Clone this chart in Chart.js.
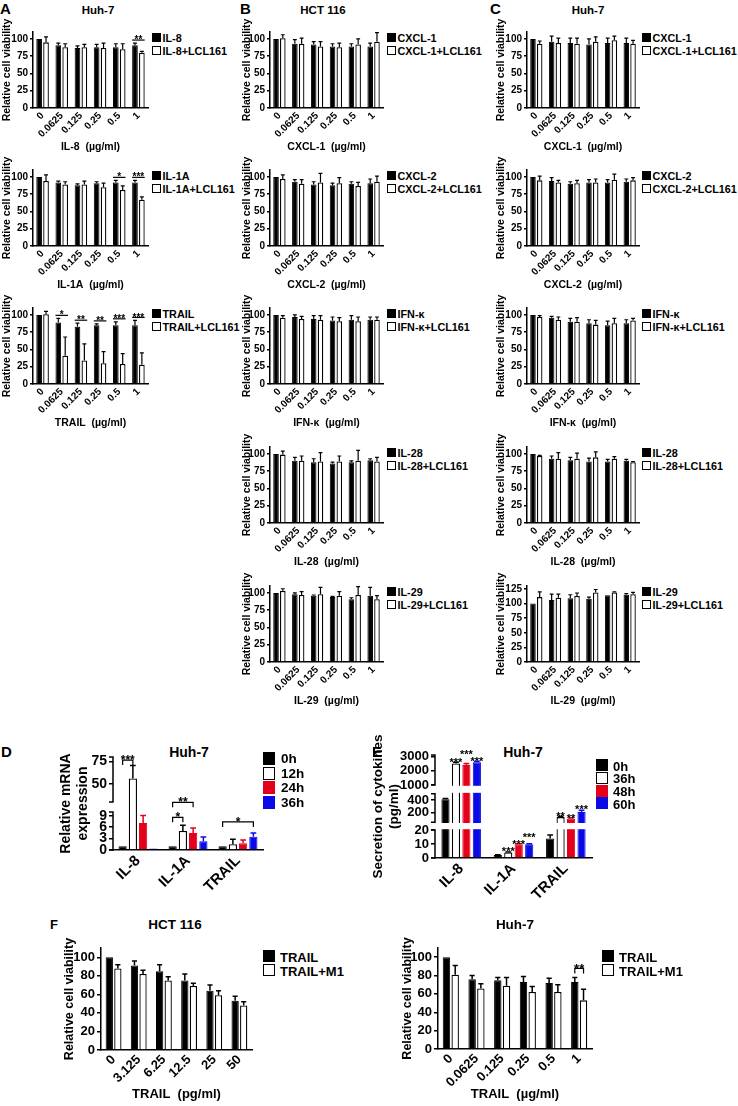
<!DOCTYPE html>
<html><head><meta charset="utf-8">
<script src="https://cdn.jsdelivr.net/npm/chart.js@4.4.1/dist/chart.umd.min.js"></script>
<style>
html,body{margin:0;padding:0;background:#fff;}
#wrap{position:relative;width:738px;height:1106px;overflow:hidden;background:#fff;font-family:"Liberation Sans",Arial,Helvetica,sans-serif;font-weight:bold;color:#000;}
#wrap canvas{position:absolute;}
.t{position:absolute;white-space:pre;line-height:1;}
.bx{position:absolute;box-sizing:border-box;}
</style></head><body><div id="wrap"></div>
<script>
// ================= DATA =================
const doseCats = ['0', '0.0625', '0.125', '0.25', '0.5', '1'];
const pgCats = ['0', '3.125', '6.25', '12.5', '25', '50'];
const viabTicks = [0, 25, 50, 75, 100];
const viabTicks125 = [0, 25, 50, 75, 100, 125];
const fTicks = [0, 20, 40, 60, 80, 100];

// Panel A (Huh-7)
const aIL8 = [100, 91, 87, 88, 88, 91];      const aIL8Err = [0, 3, 3, 4, 5, 3];
const aIL8L = [95, 88, 88, 87, 85, 80];      const aIL8LErr = [8, 5, 4, 7, 8, 2];
const aIL8Stars = ['', '', '', '', '', '**'];
const aIL1A = [100, 92, 88, 91, 92, 92];     const aIL1AErr = [0, 2, 2, 2, 3, 3];
const aIL1AL = [94, 89, 89, 85, 81, 67];     const aIL1ALErr = [9, 4, 5, 6, 6, 4];
const aIL1AStars = ['', '', '', '', '*', '***'];
const aTRAIL = [100, 89, 83, 85, 85, 85];    const aTRAILErr = [0, 6, 5, 2, 5, 7];
const aTRAILL = [101, 41, 34, 30, 29, 28];   const aTRAILLErr = [4, 27, 24, 17, 15, 17];
const aTRAILStars = ['', '*', '**', '**', '***', '***'];

// Panel B (HCT 116)
const bCXCL1 = [100, 93, 92, 89, 89, 89];    const bCXCL1Err = [0, 6, 4, 4, 4, 5];
const bCXCL1L = [101, 93, 89, 88, 92, 96];   const bCXCL1LErr = [5, 8, 7, 6, 8, 13];
const bCXCL2 = [100, 93, 89, 88, 90, 91];    const bCXCL2Err = [0, 3, 4, 3, 3, 6];
const bCXCL2L = [97, 90, 92, 91, 87, 93];    const bCXCL2LErr = [6, 6, 13, 8, 5, 8];
const bIFNK = [100, 97, 94, 92, 93, 93];     const bIFNKErr = [0, 3, 5, 5, 6, 4];
const bIFNKL = [96, 94, 93, 91, 91, 93];     const bIFNKLErr = [3, 4, 6, 5, 6, 4];
const bIL28 = [100, 90, 88, 86, 88, 91];     const bIL28Err = [0, 5, 5, 2, 2, 2];
const bIL28L = [99, 90, 89, 89, 90, 89];     const bIL28LErr = [5, 7, 13, 8, 15, 6];
const bIL29 = [100, 98, 96, 94, 91, 96];     const bIL29Err = [0, 2, 1, 1, 2, 12];
const bIL29L = [103, 97, 98, 96, 97, 91];    const bIL29LErr = [3, 5, 10, 6, 12, 5];

// Panel C (Huh-7)
const cCXCL1 = [100, 96, 94, 92, 94, 94];    const cCXCL1Err = [0, 8, 7, 8, 7, 7];
const cCXCL1L = [93, 94, 93, 96, 98, 93];    const cCXCL1LErr = [4, 7, 8, 7, 6, 5];
const cCXCL2 = [100, 94, 90, 92, 92, 93];    const cCXCL2Err = [0, 5, 3, 4, 4, 4];
const cCXCL2L = [95, 92, 91, 92, 96, 95];    const cCXCL2LErr = [6, 3, 4, 5, 8, 4];
const cIFNK = [100, 96, 90, 88, 85, 88];     const cIFNKErr = [0, 2, 5, 5, 6, 5];
const cIFNKL = [97, 93, 90, 86, 88, 92];     const cIFNKLErr = [2, 4, 6, 6, 7, 3];
const cIL28 = [100, 93, 91, 89, 89, 90];     const cIL28Err = [0, 4, 4, 5, 3, 2];
const cIL28L = [97, 93, 93, 95, 93, 88];     const cIL28LErr = [1, 9, 8, 8, 3, 1];
const cIL29 = [100, 106, 109, 108, 114, 115]; const cIL29Err = [0, 10, 6, 3, 0, 2];
const cIL29L = [111, 110, 113, 119, 119, 116]; const cIL29LErr = [9, 6, 5, 5, 1, 3];

// Panel D (Huh-7, relative mRNA expression)
const dCats = ['IL-8', 'IL-1A', 'TRAIL'];
const dSeries = ['0h', '12h', '24h', '36h'];
const d0h = [1, 1, 1];          const d0hErr = [0, 0, 0];
const d12h = [56, 5, 1.5];      const d12hErr = [14.5, 1.5, 1.3];
const d24h = [7.1, 4.5, 1.8];   const d24hErr = [2, 1.3, 0.8];
const d36h = [0.4, 2.3, 3.5];   const d36hErr = [0, 1.1, 1];
const dTicks = [0, 3, 6, 9, 50, 75];
const dBrackets = [{g: 0, a: 0, b: 1, text: '***'}, {g: 1, a: 0, b: 1, text: '*'}, {g: 1, a: 0, b: 2, text: '**'}, {g: 2, a: 0, b: 3, text: '*'}];

// Panel E (Huh-7, secretion of cytokines, pg/ml)
const eCats = ['IL-8', 'IL-1A', 'TRAIL'];
const eSeries = ['0h', '36h', '48h', '60h'];
const e0h = [410, 2.1, 14];     const e0hErr = [15, 0.3, 2.4];
const e36h = [2500, 4, 130];    const e36hErr = [100, 0.3, 15];
const e48h = [2400, 9.8, 105];  const e48hErr = [100, 0.3, 10];
const e60h = [2600, 9.8, 210];  const e60hErr = [50, 0.4, 30];
const e36hStars = ['***', '***', '**'];
const e48hStars = ['***', '***', '**'];
const e60hStars = ['***', '***', '***'];
const eTicks = [0, 10, 20, 200, 400, 1000, 2000, 3000];

// Panel F
const fHctTRAIL = [100, 91, 85, 75, 64, 53];  const fHctTRAILErr = [0, 5, 7, 7, 6, 5];
const fHctM1 = [88, 82, 75, 69, 59, 48];      const fHctM1Err = [4, 4, 4, 3, 5, 4];
const fHuhTRAIL = [100, 76, 75, 73, 72, 73];  const fHuhTRAILErr = [0, 4, 3, 6, 5, 5];
const fHuhM1 = [81, 66, 69, 62, 62, 53];      const fHuhM1Err = [10, 5, 9, 6, 8, 12];
const fHuhBrackets = [{g: 5, a: 0, b: 1, text: '**'}];

// ================= LAYOUT / STYLE =================
const FONT = '"Liberation Sans", Arial, Helvetica, sans-serif';
Chart.defaults.font.family = FONT;
Chart.defaults.font.weight = 'bold';
Chart.defaults.color = '#000';
const RED = '#e3001b', BLUE = '#0a0ae6';
const wrap = document.getElementById('wrap');

// broken-axis segments: value range -> fraction of plot height
const SEGMENTS = {
  D: [{min: 0, max: 10, from: 0, to: 0.4086}, {min: 30, max: 80, from: 0.517, to: 1}],
  E: [{min: 0, max: 20, from: 0, to: 0.2718}, {min: 50, max: 500, from: 0.3476, to: 0.625}, {min: 1000, max: 3100, from: 0.7087, to: 1}]
};
function brokenDecimal(segs, v) {
  if (v <= segs[0].max) { const s = segs[0]; return s.from + (v - s.min) / (s.max - s.min) * (s.to - s.from); }
  for (let i = 1; i < segs.length; i++) {
    const s = segs[i], p = segs[i - 1];
    if (v < s.min) return p.to + (v - p.max) / (s.min - p.max) * (s.from - p.to);
    if (v <= s.max || i === segs.length - 1) return s.from + (v - s.min) / (s.max - s.min) * (s.to - s.from);
  }
}
class BrokenScale extends Chart.LinearScale {
  getPixelForValue(value) {
    if (value === null || value === undefined || isNaN(value)) return NaN;
    return this.getPixelForDecimal(brokenDecimal(SEGMENTS[this.options.segKey], value));
  }
  getValueForPixel(pixel) {
    const segs = SEGMENTS[this.options.segKey];
    const d = this.getDecimalForPixel(pixel);
    for (const s of segs) if (d >= s.from && d <= s.to) return s.min + (d - s.from) / (s.to - s.from) * (s.max - s.min);
    return 0;
  }
}
BrokenScale.id = 'broken';
BrokenScale.defaults = {};
Chart.register(BrokenScale);

const EXTRAS = {};
const extrasPlugin = {
  id: 'extras',
  afterDatasetsDraw(chart) {
    const ex = EXTRAS[chart.canvas.id] || {};
    const ctx = chart.ctx, ys = chart.scales.y, ca = chart.chartArea;
    const errTop = (di, i) => { const ds = chart.data.datasets[di]; return ys.getPixelForValue(ds.data[i] + (ds.err ? ds.err[i] : 0)); };
    ctx.save();
    const segs = ys.type === 'broken' ? SEGMENTS[ys.options.segKey] : null;
    if (segs && ex.gapFill) {
      ctx.fillStyle = '#fff';
      for (let k = 1; k < segs.length; k++) {
        const yLo = ys.getPixelForValue(segs[k - 1].max), yHi = ys.getPixelForValue(segs[k].min);
        ctx.fillRect(ca.left + 1, yHi + 0.8, ca.right - ca.left, yLo - yHi - 1.6);
      }
    }
    chart.data.datasets.forEach((ds, di) => {
      if (!ds.err) return;
      chart.getDatasetMeta(di).data.forEach((bar, i) => {
        const e = ds.err[i]; if (!e) return;
        const yT = errTop(di, i);
        const half = bar.width * (ex.cap || 0.32);
        ctx.strokeStyle = ds.errColor || '#000'; ctx.lineWidth = ex.errW || 1.3;
        ctx.beginPath(); ctx.moveTo(bar.x, bar.y); ctx.lineTo(bar.x, yT);
        ctx.moveTo(bar.x - half, yT); ctx.lineTo(bar.x + half, yT); ctx.stroke();
      });
    });
    if (segs) {
      const ax = ca.left;
      ctx.strokeStyle = '#000'; ctx.lineWidth = 1.5;
      segs.forEach(s => {
        const a = ys.getPixelForValue(s.min), b = ys.getPixelForValue(s.max);
        ctx.beginPath(); ctx.moveTo(ax - 4, a); ctx.lineTo(ax, a); ctx.lineTo(ax, b); ctx.lineTo(ax - 4, b); ctx.stroke();
      });
    }
    const fs = ex.starFont || 10;
    ctx.font = 'bold ' + fs + 'px ' + FONT; ctx.fillStyle = '#000'; ctx.textAlign = 'center'; ctx.textBaseline = 'alphabetic';
    (ex.sig || []).forEach(it => {
      const mA = chart.getDatasetMeta(it.a).data[it.g];
      const mB = chart.getDatasetMeta(it.b).data[it.g];
      let top = Infinity;
      for (let d = it.a; d <= it.b; d++) top = Math.min(top, errTop(d, it.g));
      if (it.style === 'text') {
        ctx.fillText(it.text, mA.x, top - it.lift + 0.43 * fs);
        return;
      }
      const y = top - it.lift;
      ctx.lineWidth = 1.2; ctx.strokeStyle = '#000';
      ctx.beginPath();
      if (it.style === 'bracket') {
        const leg = it.leg || 5;
        ctx.moveTo(mA.x, y + leg); ctx.lineTo(mA.x, y); ctx.lineTo(mB.x, y); ctx.lineTo(mB.x, y + leg);
      } else {
        ctx.moveTo(mA.x - mA.width / 2, y); ctx.lineTo(mB.x + mB.width / 2, y);
      }
      ctx.stroke();
      ctx.fillText(it.text, (mA.x + mB.x) / 2, y - 1.2 + 0.43 * fs);
    });
    ctx.restore();
  }
};

function txt(s, x, y, size, align) {
  const d = document.createElement('div');
  d.className = 't'; d.textContent = s;
  d.style.left = x + 'px'; d.style.top = y + 'px'; d.style.fontSize = size + 'px';
  d.style.transform = align === 'center' ? 'translate(-50%,-50%)' : 'translate(0,-50%)';
  wrap.appendChild(d);
}
function legend(x, y, labels, colors, o) {
  labels.forEach((lab, k) => {
    const top = y + k * o.row;
    const b = document.createElement('div');
    b.className = 'bx';
    const c = colors[k];
    b.style.cssText += `left:${x}px;top:${top}px;width:${o.box}px;height:${o.boxH || o.box}px;background:${c};border:${o.bw}px solid ${c === '#fff' ? '#000' : c};`;
    wrap.appendChild(b);
    txt(lab, x + o.box + o.gap, top + (o.boxH || o.box) / 2 + 0.5, o.font, 'left');
  });
}

function mkBar(id, o) {
  const w = o.plotR - o.left + 2;
  const h = o.padT + o.PH + o.xH;
  const cv = document.createElement('canvas');
  cv.id = id; cv.width = w; cv.height = h;
  cv.style.left = o.left + 'px'; cv.style.top = o.top + 'px';
  wrap.appendChild(cv);
  EXTRAS[id] = o.extras || {};
  const y = {
    type: o.segKey ? 'broken' : 'linear', min: 0, max: o.yMax,
    grid: {display: true, drawOnChartArea: false, drawTicks: true, tickLength: o.tl || 3, color: '#000', lineWidth: 1.5},
    border: {display: !o.segKey, color: '#000', width: 1.5},
    ticks: {font: {size: o.tickFont, weight: 'bold'}, color: '#000', padding: 2, autoSkip: false, callback: v => String(v)},
    afterBuildTicks: s => { s.ticks = o.yTicks.map(v => ({value: v})); },
    title: {display: true, text: o.yTitle, font: {size: o.yTitleFont, weight: 'bold'}, color: '#000', padding: {top: o.yTitlePad || 1, bottom: 0}},
    afterFit: s => { s.width = o.yW; }
  };
  if (o.segKey) y.segKey = o.segKey;
  const x = {
    grid: {display: false, drawTicks: false},
    border: {display: true, color: '#000', width: 1.5},
    ticks: {font: {size: o.xTickFont, weight: 'bold'}, color: '#000', minRotation: 45, maxRotation: 45, autoSkip: false, padding: o.xPad || 2},
    title: {display: !!o.xTitle, text: o.xTitle || '', font: {size: o.xTitleFont || 10.5, weight: 'bold'}, color: '#000', padding: {top: 0, bottom: 0}},
    afterFit: s => { s.height = o.xH; }
  };
  const datasets = o.series.map(s => ({
    data: s.data, err: s.err, errColor: s.color === '#fff' ? '#000' : s.color,
    backgroundColor: s.color, borderColor: s.color === '#fff' ? '#000' : s.color,
    borderWidth: s.color === '#fff' ? 1.3 : 1,
    categoryPercentage: o.cat, barPercentage: o.bar
  }));
  new Chart(cv, {
    type: 'bar',
    data: {labels: o.labels, datasets},
    options: {
      responsive: false, animation: false, devicePixelRatio: 1,
      layout: {padding: {top: o.padT, right: 2, left: 0, bottom: 0}},
      plugins: {legend: {display: false}, tooltip: {enabled: false}},
      scales: {x, y}
    },
    plugins: [extrasPlugin]
  });
}

// ---- A/B/C small viability charts ----
const COLS = {A: {cl: 0, yW: 33, pr: 148, lx: 152}, B: {cl: 240, yW: 30, pr: 383, lx: 387}, C: {cl: 494, yW: 33, pr: 639, lx: 642}};
const ROWY0 = [108, 246, 384, 523, 662];
const SPH = 76, SPADT = 15, SXH = 45;
function viab(id, col, row, s1, e1, s2, e2, names, xTitle, stars, yTicks, yMax) {
  const g = COLS[col], y0 = ROWY0[row];
  const sig = [];
  (stars || []).forEach((t, i) => { if (t) sig.push({g: i, a: 0, b: 1, text: t, style: 'line', lift: 3}); });
  mkBar(id, {
    left: g.cl, top: y0 - SPH - SPADT, yW: g.yW, plotR: g.pr, padT: SPADT, PH: SPH, xH: SXH,
    labels: doseCats, series: [{data: s1, err: e1, color: '#000'}, {data: s2, err: e2, color: '#fff'}],
    yMax: yMax || 110, yTicks: yTicks || viabTicks, yTitle: 'Relative cell viability', yTitleFont: 10.5,
    tickFont: 10, xTickFont: 10, xTitle: xTitle, xTitleFont: 10.5, cat: 0.72, bar: 0.82,
    extras: {sig, starFont: 10, cap: 0.35, errW: 1.2}
  });
  legend(g.lx, y0 - 75, names, ['#000', '#fff'], {box: 9, row: 13, gap: 1.5, font: 10.8, bw: 1.3});
}

// panel letters and titles
txt('A', 0, 8, 15, 'left'); txt('B', 240, 8, 15, 'left'); txt('C', 490, 8, 15, 'left');
txt('Huh-7', 98, 11, 11.5, 'center'); txt('HCT 116', 323, 11, 11.5, 'center'); txt('Huh-7', 588, 11, 11.5, 'center');

viab('a1', 'A', 0, aIL8, aIL8Err, aIL8L, aIL8LErr, ['IL-8', 'IL-8+LCL161'], 'IL-8  (µg/ml)', aIL8Stars);
viab('a2', 'A', 1, aIL1A, aIL1AErr, aIL1AL, aIL1ALErr, ['IL-1A', 'IL-1A+LCL161'], 'IL-1A  (µg/ml)', aIL1AStars);
viab('a3', 'A', 2, aTRAIL, aTRAILErr, aTRAILL, aTRAILLErr, ['TRAIL', 'TRAIL+LCL161'], 'TRAIL  (µg/ml)', aTRAILStars);

viab('b1', 'B', 0, bCXCL1, bCXCL1Err, bCXCL1L, bCXCL1LErr, ['CXCL-1', 'CXCL-1+LCL161'], 'CXCL-1  (µg/ml)');
viab('b2', 'B', 1, bCXCL2, bCXCL2Err, bCXCL2L, bCXCL2LErr, ['CXCL-2', 'CXCL-2+LCL161'], 'CXCL-2  (µg/ml)');
viab('b3', 'B', 2, bIFNK, bIFNKErr, bIFNKL, bIFNKLErr, ['IFN-κ', 'IFN-κ+LCL161'], 'IFN-κ  (µg/ml)');
viab('b4', 'B', 3, bIL28, bIL28Err, bIL28L, bIL28LErr, ['IL-28', 'IL-28+LCL161'], 'IL-28  (µg/ml)');
viab('b5', 'B', 4, bIL29, bIL29Err, bIL29L, bIL29LErr, ['IL-29', 'IL-29+LCL161'], 'IL-29  (µg/ml)');

viab('c1', 'C', 0, cCXCL1, cCXCL1Err, cCXCL1L, cCXCL1LErr, ['CXCL-1', 'CXCL-1+LCL161'], 'CXCL-1  (µg/ml)');
viab('c2', 'C', 1, cCXCL2, cCXCL2Err, cCXCL2L, cCXCL2LErr, ['CXCL-2', 'CXCL-2+LCL161'], 'CXCL-2  (µg/ml)');
viab('c3', 'C', 2, cIFNK, cIFNKErr, cIFNKL, cIFNKLErr, ['IFN-κ', 'IFN-κ+LCL161'], 'IFN-κ  (µg/ml)');
viab('c4', 'C', 3, cIL28, cIL28Err, cIL28L, cIL28LErr, ['IL-28', 'IL-28+LCL161'], 'IL-28  (µg/ml)');
viab('c5', 'C', 4, cIL29, cIL29Err, cIL29L, cIL29LErr, ['IL-29', 'IL-29+LCL161'], 'IL-29  (µg/ml)', null, viabTicks125, 130);

// ---- Panel D ----
txt('D', 1, 751, 15, 'left');
txt('Huh-7', 189, 752, 14, 'center');
const dLift = [5.5, 8, 23, 11];
mkBar('d', {
  left: 57, top: 742, yW: 56, plotR: 263, padT: 15, PH: 93, xH: 45,
  labels: dCats,
  series: [{data: d0h, err: d0hErr, color: '#000'}, {data: d12h, err: d12hErr, color: '#fff'}, {data: d24h, err: d24hErr, color: RED}, {data: d36h, err: d36hErr, color: BLUE}],
  segKey: 'D', yMax: 80, yTicks: dTicks, yTitle: ['Relative mRNA', 'expression'], yTitleFont: 14, yTitlePad: 1,
  tickFont: 14, xTickFont: 15, tl: 4, cat: 0.82, bar: 0.8,
  extras: {starFont: 12, cap: 0.35, errW: 1.5, sig: dBrackets.map((b, k) => Object.assign({style: 'bracket', lift: dLift[k], leg: 5}, b))}
});
legend(263, 752, dSeries, ['#000', '#fff', RED, BLUE], {box: 12, boxH: 13, row: 14.7, gap: 6, font: 13.5, bw: 1.5});

// ---- Panel E ----
txt('E', 372, 751, 15, 'left');
txt('Huh-7', 523, 752, 14, 'center');
const eStarSets = [e36hStars, e48hStars, e60hStars];
const eLift = [[1, 2, 1], [10, 1, 1], [1, 7, 2]];
const eSig = [];
eStarSets.forEach((arr, k) => arr.forEach((t, g) => { if (t) eSig.push({g, a: k + 1, b: k + 1, text: t, style: 'text', lift: eLift[k][g]}); }));
mkBar('e', {
  left: 369, top: 727, yW: 66, plotR: 592, padT: 28, PH: 103, xH: 45,
  labels: eCats,
  series: [{data: e0h, err: e0hErr, color: '#000'}, {data: e36h, err: e36hErr, color: '#fff'}, {data: e48h, err: e48hErr, color: RED}, {data: e60h, err: e60hErr, color: BLUE}],
  segKey: 'E', yMax: 3100, yTicks: eTicks, yTitle: ['Secretion of cytokines', '(pg/ml)'], yTitleFont: 13.5, yTitlePad: 0,
  tickFont: 13, xTickFont: 15, tl: 4, cat: 0.8, bar: 0.78,
  extras: {starFont: 11, cap: 0.35, errW: 1.5, gapFill: true, sig: eSig}
});
legend(596, 759, eSeries, ['#000', '#fff', RED, BLUE], {box: 12, boxH: 12, row: 12.8, gap: 5, font: 13, bw: 1.5});

// ---- Panel F ----
txt('F', 50, 924, 13, 'left');
txt('HCT 116', 175, 925, 13.5, 'center');
txt('Huh-7', 515, 925, 13.5, 'center');
mkBar('f1', {
  left: 61, top: 936, yW: 40, plotR: 252, padT: 12, PH: 102, xH: 52,
  labels: pgCats, series: [{data: fHctTRAIL, err: fHctTRAILErr, color: '#000'}, {data: fHctM1, err: fHctM1Err, color: '#fff'}],
  yMax: 110, yTicks: fTicks, yTitle: 'Relative cell viability', yTitleFont: 12.5,
  tickFont: 13, xTickFont: 13, xTitle: 'TRAIL  (pg/ml)', xTitleFont: 13, tl: 4, cat: 0.68, bar: 0.85,
  extras: {cap: 0.35, errW: 1.5}
});
legend(263, 950, ['TRAIL', 'TRAIL+M1'], ['#000', '#fff'], {box: 12, row: 14, gap: 5, font: 13, bw: 1.5});
mkBar('f2', {
  left: 399, top: 936, yW: 39, plotR: 592, padT: 12, PH: 101, xH: 53,
  labels: doseCats, series: [{data: fHuhTRAIL, err: fHuhTRAILErr, color: '#000'}, {data: fHuhM1, err: fHuhM1Err, color: '#fff'}],
  yMax: 110, yTicks: fTicks, yTitle: 'Relative cell viability', yTitleFont: 12.5,
  tickFont: 13, xTickFont: 13, xTitle: 'TRAIL  (µg/ml)', xTitleFont: 13, tl: 4, cat: 0.68, bar: 0.85,
  extras: {cap: 0.35, errW: 1.5, starFont: 13, sig: fHuhBrackets.map(b => Object.assign({style: 'bracket', lift: 9, leg: 5}, b))}
});
legend(602, 950, ['TRAIL', 'TRAIL+M1'], ['#000', '#fff'], {box: 12, row: 14, gap: 5, font: 13, bw: 1.5});
</script></body></html>
